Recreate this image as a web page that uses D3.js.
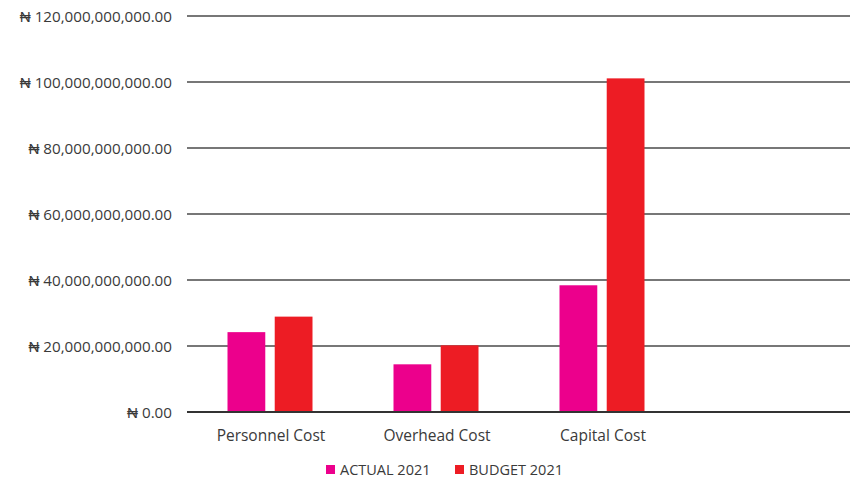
<!DOCTYPE html>
<html><head><meta charset="utf-8">
<script src="https://cdn.jsdelivr.net/npm/d3@7"></script>
<style>body{margin:0;background:#fff;} text{font-family:"Open Sans","Liberation Sans",sans-serif;}</style>
</head><body>
<svg id="c" width="850" height="480"></svg>
<script>
const categories = ["Personnel Cost", "Overhead Cost", "Capital Cost"];
const seriesNames = ["ACTUAL 2021", "BUDGET 2021"];
const actual2021 = [24.2e9, 14.45e9, 38.4e9];
const budget2021 = [28.9e9, 20.2e9, 101.1e9];
const yTicks = [0, 20e9, 40e9, 60e9, 80e9, 100e9, 120e9];
const colors = ["#EC008C", "#ED1C24"];

(function(){
const svg = d3.select("#c");
const pLeft = 187, pRight = 850, pTop = 16, pBottom = 412;
const y = d3.scaleLinear().domain([0, 120e9]).range([pBottom, pTop]);
const x = d3.scaleBand().domain(categories).range([pLeft, pLeft + 166 * 3]).paddingInner(0).paddingOuter(0);
const x1 = d3.scaleBand().domain(seriesNames).range([40.5, 166 - 40.5]).paddingInner(0.2);

const fmt = v => "\u20A6 " + (v === 0 ? "0.00" : d3.format(",.2f")(v));

svg.append("g").selectAll("line").data(yTicks).join("line")
  .attr("x1", pLeft).attr("x2", pRight)
  .attr("y1", d => y(d)).attr("y2", d => y(d))
  .attr("stroke", "#4a4a4a").attr("stroke-width", 1.6);

const yAxis = d3.axisLeft(y).tickValues(yTicks).tickFormat(fmt).tickSize(0).tickPadding(0);
const ga = svg.append("g").attr("transform", `translate(172,0)`).call(yAxis);
ga.select(".domain").remove();
ga.selectAll("text").attr("font-size", 15.2).attr("fill", "#3a3a3a").attr("dy", "0.35em")
  .attr("font-family", "'Open Sans', sans-serif");

const data = categories.map((c, i) => ({c, vals: [actual2021[i], budget2021[i]]}));
const grp = svg.append("g").selectAll("g").data(data).join("g")
  .attr("transform", d => `translate(${x(d.c)},0)`);
grp.selectAll("rect").data(d => d.vals.map((v, j) => ({v, s: seriesNames[j], j})))
  .join("rect")
  .attr("x", d => x1(d.s)).attr("width", x1.bandwidth())
  .attr("y", d => y(d.v)).attr("height", d => y(0) - y(d.v))
  .attr("fill", d => colors[d.j]);

svg.append("line").attr("x1", pLeft).attr("x2", pRight).attr("y1", y(0)).attr("y2", y(0))
  .attr("stroke", "#333").attr("stroke-width", 2);

svg.append("g").selectAll("text").data(categories).join("text")
  .attr("x", d => x(d) + x.bandwidth() / 2 + 1).attr("y", 441)
  .attr("text-anchor", "middle").attr("font-size", 15.5).attr("fill", "#3a3a3a")
  .text(d => d);

const legX = [326, 455];
const lg = svg.append("g").selectAll("g").data(seriesNames).join("g")
  .attr("transform", (d, i) => `translate(${legX[i]},0)`);
lg.append("rect").attr("x", 0).attr("y", 465).attr("width", 9).attr("height", 9)
  .attr("fill", (d, i) => colors[i]);
lg.append("text").attr("x", 14).attr("y", 475).attr("font-size", 14.5).attr("fill", "#3a3a3a")
  .text(d => d);
})();
</script>
</body></html>
